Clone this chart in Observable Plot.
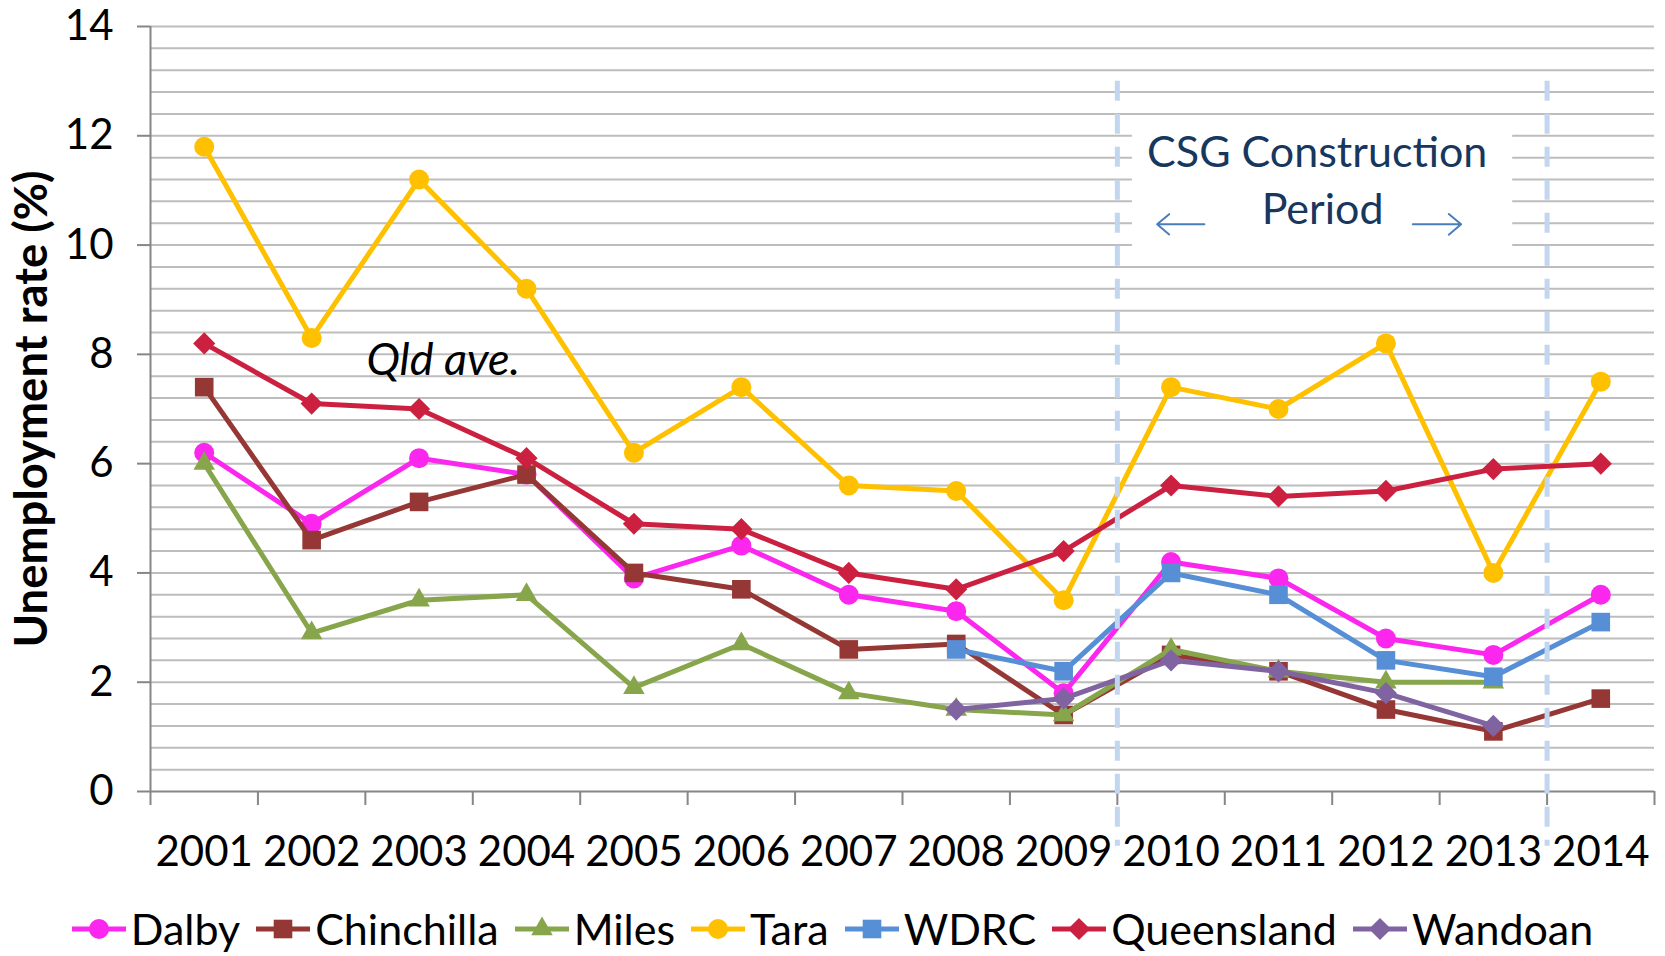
<!DOCTYPE html>
<html><head><meta charset="utf-8">
<script src="https://cdn.jsdelivr.net/npm/d3@7"></script>
<script src="https://cdn.jsdelivr.net/npm/@observablehq/plot@0.6"></script>
<style>
html,body{margin:0;padding:0;background:#fff;}
body{width:1665px;height:956px;overflow:hidden;font-family:Lato,sans-serif;}
#legend{display:flex;justify-content:center;align-items:center;font-size:43px;margin-top:8px;color:#000;}
.item{display:flex;align-items:center;margin:0 8px;}
.item svg{margin-right:5px;}
</style></head><body>
<div id="chart"></div>
<div id="legend"></div>
<script>
// ---- data ----
const years = [2001,2002,2003,2004,2005,2006,2007,2008,2009,2010,2011,2012,2013,2014];
const dalby      = [6.2,4.9,6.1,5.8,3.9,4.5,3.6,3.3,1.8,4.2,3.9,2.8,2.5,3.6];
const chinchilla = [7.4,4.6,5.3,5.8,4.0,3.7,2.6,2.7,1.4,2.5,2.2,1.5,1.1,1.7];
const miles      = [6.0,2.9,3.5,3.6,1.9,2.7,1.8,1.5,1.4,2.6,2.2,2.0,2.0,null];
const tara       = [11.8,8.3,11.2,9.2,6.2,7.4,5.6,5.5,3.5,7.4,7.0,8.2,4.0,7.5];
const wdrc       = [null,null,null,null,null,null,null,2.6,2.2,4.0,3.6,2.4,2.1,3.1];
const queensland = [8.2,7.1,7.0,6.1,4.9,4.8,4.0,3.7,4.4,5.6,5.4,5.5,5.9,6.0];
const wandoan    = [null,null,null,null,null,null,null,1.5,1.7,2.4,2.2,1.8,1.2,null];
const seriesNames = ["Dalby","Chinchilla","Miles","Tara","WDRC","Queensland","Wandoan"];
const seriesValues = [dalby,chinchilla,miles,tara,wdrc,queensland,wandoan];
const seriesColors = ["#fc27ef","#953735","#87a54b","#ffc000","#568fd6","#cb2040","#8064a2"];
const seriesSymbols = ["circle","square","triangle","circle","square","diamond2","diamond2"];
const yTicks = [0,2,4,6,8,10,12,14];
const yTitle = "Unemployment rate (%)";
const csgBounds = [2009.5, 2013.5];
const csgLines = ["CSG Construction","Period"];
const qldLabel = "Qld ave.";

// ---- build ----
const symbolR = {circle: 10, square: 10.5, triangle: 8, diamond2: 10};
const gridValues = d3.range(1, 36).map(k => +(k * 0.4).toFixed(1));
const boundaries = d3.range(2000.5, 2015, 1);
const rows = [];
seriesNames.forEach((name, i) => years.forEach((yr, j) => {
  const v = seriesValues[i][j];
  rows.push({series: name, year: yr, value: v == null ? NaN : v});
}));

const marks = [
  Plot.ruleY(gridValues, {stroke: "#bdbdbd", strokeWidth: 2}),
  Plot.rect([{x1: 2009.64, x2: 2013.18, y1: 9.78, y2: 12.36}], {x1: "x1", x2: "x2", y1: "y1", y2: "y2", fill: "white"}),
  Plot.ruleX([2000.5], {y1: 0, y2: 14, stroke: "#868686", strokeWidth: 2}),
  Plot.ruleY([0], {stroke: "#868686", strokeWidth: 2}),
  Plot.axisY(yTicks, {tickSize: 13, tickPadding: 24, tickFormat: d => String(d), stroke: "#868686", strokeWidth: 2, fontSize: 42, label: null}),
  Plot.axisX(boundaries, {tickSize: 14, tickFormat: () => "", stroke: "#868686", strokeWidth: 2, label: null}),
  Plot.axisX(years, {tickSize: 0, tickPadding: 45, tickFormat: d => String(d), fontSize: 42, label: null})
];
seriesNames.forEach((name, i) => {
  const data = rows.filter(d => d.series === name);
  marks.push(Plot.line(data, {x: "year", y: "value", stroke: seriesColors[i], strokeWidth: 5}));
  marks.push(Plot.dot(data.filter(d => !isNaN(d.value)), {x: "year", y: "value", fill: seriesColors[i], stroke: "none", symbol: seriesSymbols[i], r: symbolR[seriesSymbols[i]]}));
});
marks.push(
  Plot.ruleX(csgBounds, {y1: 13.0, y2: -1.0, stroke: "#c3d6ef", strokeWidth: 5, strokeDasharray: "20,13"}),
  Plot.text([csgLines[0]], {x: 2011.36, y: 11.68, text: d => d, fill: "#17375e", fontSize: 43}),
  Plot.text([csgLines[1]], {x: 2011.41, y: 10.63, text: d => d, fill: "#17375e", fontSize: 43}),
  Plot.arrow([{x1: 2010.31, x2: 2009.87, y: 10.38}, {x1: 2012.25, x2: 2012.70, y: 10.38}], {x1: "x1", x2: "x2", y1: "y", y2: "y", stroke: "#4a7ebb", strokeWidth: 2, headLength: 15, headAngle: 80}),
  Plot.text([qldLabel], {x: 2002.51, y: 7.88, text: d => d, textAnchor: "start", fontStyle: "italic", fontSize: 45}),
  Plot.text([yTitle], {frameAnchor: "left", rotate: -90, dx: -118, text: d => d, textAnchor: "middle", fontWeight: "bold", fontSize: 45.5, lineAnchor: "middle"})
);

const chart = Plot.plot({
  width: 1665, height: 895,
  marginLeft: 150, marginRight: 11, marginTop: 26, marginBottom: 104,
  style: {fontFamily: "Lato, sans-serif", fontSize: "42px", color: "#000", background: "#fff", overflow: "visible"},
  x: {type: "linear", domain: [2000.5, 2014.5]},
  y: {domain: [0, 14]},
  marks
});
document.getElementById("chart").appendChild(chart);

// legend
const d3sym = {circle: d3.symbolCircle, square: d3.symbolSquare, triangle: d3.symbolTriangle, diamond2: d3.symbolDiamond2};
const legend = d3.select("#legend");
seriesNames.forEach((name, i) => {
  const item = legend.append("div").attr("class", "item");
  const svg = item.append("svg").attr("width", 54).attr("height", 30);
  svg.append("line").attr("x1", 0).attr("x2", 54).attr("y1", 15).attr("y2", 15).attr("stroke", seriesColors[i]).attr("stroke-width", 5);
  const r = symbolR[seriesSymbols[i]];
  svg.append("path").attr("transform", "translate(27,15)").attr("d", d3.symbol(d3sym[seriesSymbols[i]], Math.PI * r * r)()).attr("fill", seriesColors[i]);
  item.append("span").text(name);
});
</script>
</body></html>
